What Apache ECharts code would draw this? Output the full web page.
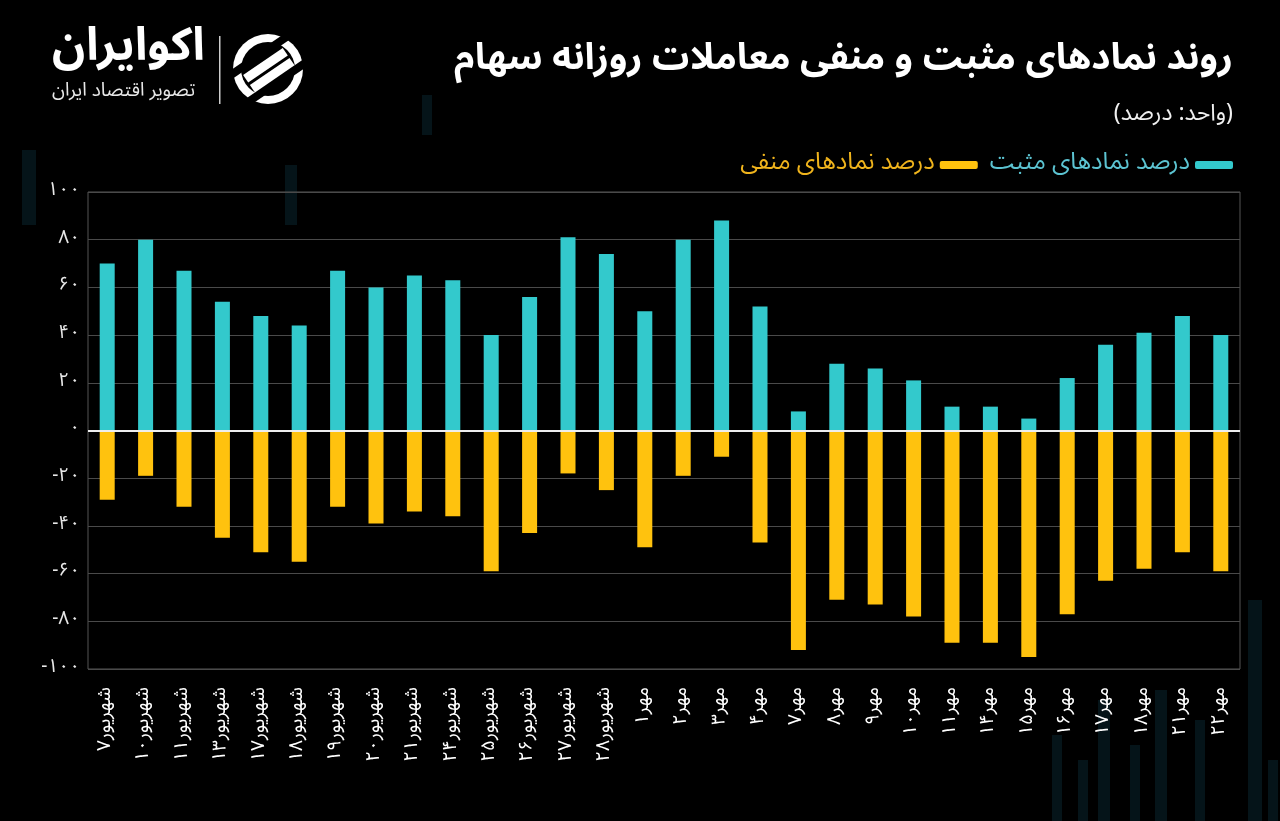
<!DOCTYPE html>
<html>
<head>
<meta charset="utf-8">
<script src="https://cdn.jsdelivr.net/npm/echarts@6/dist/echarts.min.js"></script>
<style>
html,body{margin:0;padding:0;background:#000;}
#chart{width:1280px;height:821px;}
</style>
</head>
<body>
<div id="chart"></div>
<script>
const categories = ['شهریور۷','شهریور۱۰','شهریور۱۱','شهریور۱۳','شهریور۱۷','شهریور۱۸','شهریور۱۹','شهریور۲۰','شهریور۲۱','شهریور۲۴','شهریور۲۵','شهریور۲۶','شهریور۲۷','شهریور۲۸','مهر۱','مهر۲','مهر۳','مهر۴','مهر۷','مهر۸','مهر۹','مهر۱۰','مهر۱۱','مهر۱۴','مهر۱۵','مهر۱۶','مهر۱۷','مهر۱۸','مهر۲۱','مهر۲۲'];
const positiveValues = [70,80,67,54,48,44,67,60,65,63,40,56,81,74,50,80,88,52,8,28,26,21,10,10,5,22,36,41,48,40];
const negativeValues = [-29,-19,-32,-45,-51,-55,-32,-39,-34,-36,-59,-43,-18,-25,-49,-19,-11,-47,-92,-71,-73,-78,-89,-89,-95,-77,-63,-58,-51,-59];
const seriesNames = ['درصد نمادهای مثبت','درصد نمادهای منفی'];
const titleText = 'روند نمادهای مثبت و منفی معاملات روزانه سهام';
const subtitleText = '(واحد: درصد)';
const brandName = 'اکوایران';
const brandTagline = 'تصویر اقتصاد ایران';

const FONT = '"Noto Sans Arabic", Vazirmatn, "DejaVu Sans", sans-serif';
const faDigits = s => String(s).replace(/\d/g, d => '۰۱۲۳۴۵۶۷۸۹'[d]);

const chart = echarts.init(document.getElementById('chart'));
const bgBars = [
  [22,150,14,75],[285,165,12,60],[422,95,10,40],[1052,735,10,86],[1078,760,10,61],
  [1098,700,12,121],[1130,745,10,76],[1155,690,12,131],[1195,720,10,101],[1248,600,14,221],[1268,760,10,61]
];
chart.setOption({
  backgroundColor: '#000000',
  textStyle: { fontFamily: FONT },
  title: [
    { text: titleText, right: 42, top: 40, textStyle: { color: '#ffffff', fontSize: 37, fontWeight: 'bold', fontFamily: FONT } },
    { text: subtitleText, right: 42, top: 100, textStyle: { color: '#f0f0f0', fontSize: 23, fontWeight: 'normal', fontFamily: FONT } }
  ],
  legend: {
    right: 42, top: 148,
    align: 'right',
    itemWidth: 38, itemHeight: 8, itemGap: 12,
    icon: 'roundRect',
    data: [
      { name: seriesNames[1], textStyle: { color: '#f0b41c' } },
      { name: seriesNames[0], textStyle: { color: '#5cc4d2' } }
    ],
    textStyle: { fontSize: 24, fontFamily: FONT }
  },
  graphic: [
    ...bgBars.map(b => ({ type: 'rect', silent: true, z: -10, shape: { x: b[0], y: b[1], width: b[2], height: b[3] }, style: { fill: '#051419' } })),
    { type: 'text', left: 52, top: 30, style: { text: brandName, fill: '#ffffff', fontSize: 46, fontWeight: 'bold', fontFamily: FONT } },
    { type: 'text', left: 52, top: 84, style: { text: brandTagline, fill: '#e8e8e8', fontSize: 19, fontFamily: FONT } },
    { type: 'rect', shape: { x: 219, y: 36, width: 1.5, height: 68 }, style: { fill: '#cccccc' } },
    { type: 'group', x: 268, y: 69, children: [
      { type: 'circle', shape: { cx: 0, cy: 0, r: 35 }, style: { fill: '#ffffff' } },
      { type: 'circle', shape: { cx: 0, cy: 0, r: 27 }, style: { fill: '#000000' } },
      { type: 'rect', rotation: 0.6, shape: { x: -40, y: -20, width: 80, height: 8 }, style: { fill: '#000000' } },
      { type: 'rect', rotation: 0.6, shape: { x: -40, y: 12, width: 80, height: 8 }, style: { fill: '#000000' } },
      { type: 'rect', rotation: 0.6, shape: { x: -24, y: -9, width: 48, height: 9 }, style: { fill: '#ffffff' } },
      { type: 'rect', rotation: 0.6, shape: { x: -24, y: 3, width: 48, height: 9 }, style: { fill: '#ffffff' } }
    ]}
  ],
  grid: { left: 88, right: 40, top: 192, bottom: 152, show: true, borderColor: '#555555', borderWidth: 1, containLabel: false },
  xAxis: {
    type: 'category',
    data: categories,
    axisLine: { show: false },
    axisTick: { show: false },
    axisLabel: { rotate: 90, color: '#ffffff', fontSize: 19, margin: 18, interval: 0, fontFamily: FONT }
  },
  yAxis: {
    type: 'value',
    min: -100, max: 100, interval: 20,
    axisLine: { show: false },
    axisTick: { show: false },
    splitLine: { lineStyle: { color: '#4a4a4a', width: 1 } },
    axisLabel: { color: '#e8e8e8', fontSize: 19, margin: 8, fontFamily: FONT, formatter: v => faDigits(v) }
  },
  series: [
    {
      name: seriesNames[0], type: 'bar', data: positiveValues, barWidth: 15, barGap: '-100%',
      itemStyle: { color: '#33c9cc' },
      markLine: { silent: true, symbol: 'none', label: { show: false }, lineStyle: { color: '#eeeeee', width: 2, type: 'solid' }, data: [{ yAxis: 0 }], z: 10 }
    },
    {
      name: seriesNames[1], type: 'bar', data: negativeValues, barWidth: 15,
      itemStyle: { color: '#ffc20e' }
    }
  ]
});
</script>
</body>
</html>
